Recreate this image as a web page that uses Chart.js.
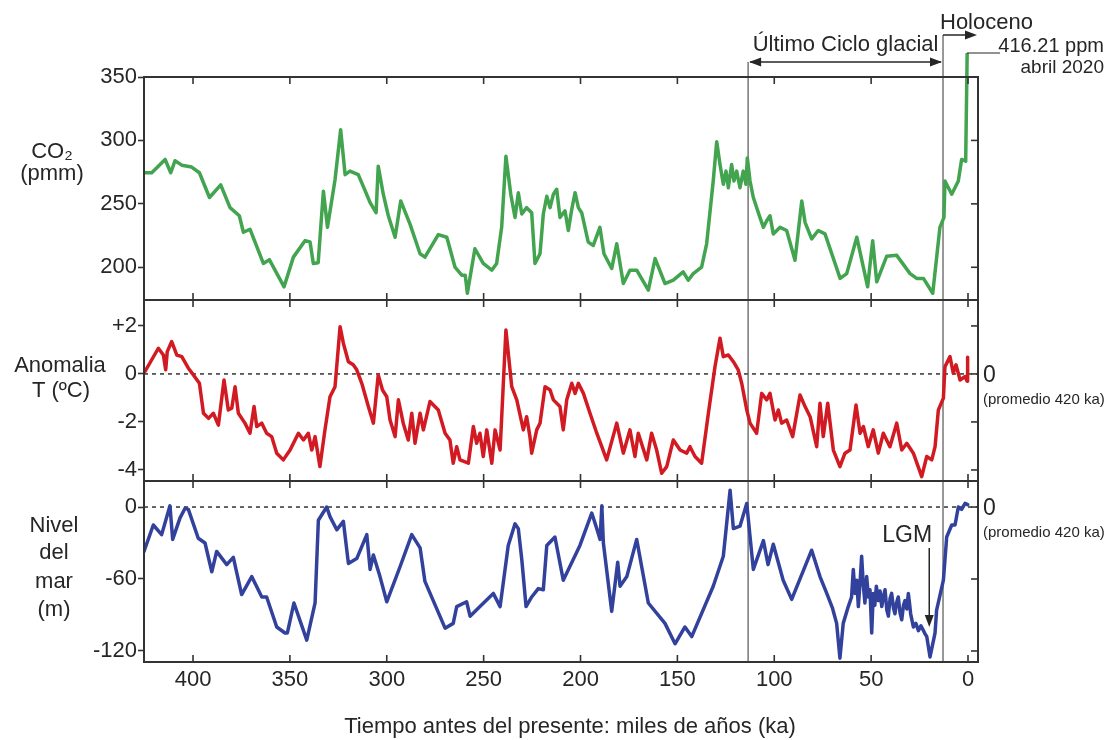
<!DOCTYPE html>
<html><head><meta charset="utf-8">
<script src="https://cdn.jsdelivr.net/npm/chart.js@4.4.1/dist/chart.umd.min.js"></script>
<style>html,body{margin:0;padding:0;background:#fff;}canvas{display:block;}</style>
</head><body>
<canvas id="c" width="1119" height="740"></canvas>
<script>
// ---------- DATA ----------
const co2Age = [425.3,421.3,414.4,411.5,409.3,405.8,400.7,396.7,391.5,385.7,
380.9,376.1,374,370.6,363.7,360.6,353,348.2,342.2,339.6,
337.9,335.4,332.7,330.6,326.7,323.8,321.5,319,314.7,310.4,
308.6,305.5,304.4,301.8,299.2,295.7,292.8,288,282.8,280.3,
273.4,269,264.8,261.3,259.5,258.4,254.5,250.2,245.8,243.3,
240.7,238.5,236,233.8,232.1,230.3,227.8,225.2,223.5,220.9,
219.2,217.4,215.7,214,212.3,210.6,208,206.3,204.5,202.8,
201.1,199.4,196,193.4,190,187.9,183.9,181.3,177.9,174.5,
171,165,161.5,156.4,152.1,147,144.4,141.8,137.5,134.9,
131.5,129.7,128,126.3,124.9,123.7,122,120.8,119.4,117.7,
116,114.6,113.9,112.5,110.8,107.4,105.6,103.9,102.2,100.5,
97,93.6,89.3,85.8,84.1,80.7,77.3,73.8,66,62.6,
57.4,51.8,49.2,47.1,42,36.8,29.9,26.5,23,18.2,
14.5,12.4,11.9,8.4,5,3.3,1.2,0];
const co2Ppm = [274.5,274.5,285,274.5,284,280.5,279,274.5,255,265,
247,240.6,227.6,230,203,206,184.6,208,221,220,
203,203.6,260,231.5,269,308.4,273,275.8,273,257.6,
251,243,279.7,257.6,240.6,223.7,252.3,234,210.7,208,
225.8,223.7,200.2,193.8,193.8,179.5,214.6,203,197.7,203,
231.5,287.5,257.6,239.3,258.8,242,247,243,203,210.7,
242,256,247,257.6,261.5,239.3,244.5,229,245.8,258.8,
247,243,219.8,217.2,231.5,210.7,199,218.5,187.2,197.7,
197.7,182,206.8,187.2,189.8,196.3,189.8,195,200.2,218.5,
268,299,281,265.4,275.8,262.7,281,268,275.8,262.7,
275.8,265.4,286.2,268,255,239.3,231.5,236.7,240.6,226.3,
231.5,229,205.5,252.3,235.4,222.4,229,226.3,191.2,195,
223.7,184.6,221,188.5,208.6,209.4,195,191.2,191.2,179.5,
231.5,239.3,268,257.6,268,285,283.6,416.21];

const tempAge = [425.3,417.9,415.3,414.1,413.3,411,408.4,405.8,402.4,399.8,
396.7,394.6,392,389.5,386.9,384,381.8,380,378.3,376.6,
373.2,370.6,368.5,367.1,364.5,362,359.4,356.8,353.4,349.9,
345.6,343,340.5,338.7,337,334.5,331.9,329.3,326.7,324.1,
322.4,319.8,317.3,315.5,312.9,309.5,306.9,304.4,302.2,300,
298.3,295.7,294,291.5,288.9,287.1,285.4,282.8,281.1,277.7,
273.4,269.9,267.4,265.7,263.9,262.2,257.9,255.3,253.6,251.9,
250.2,248.4,245.8,244.1,241.5,238.5,235.5,232.9,229.5,227.8,
226.1,225.2,222.6,220.9,218.3,215.7,214,210.6,208.9,207.1,
204.5,202.8,201.1,198.5,195.1,191.6,186.5,181.3,177.9,174.5,
171.9,170.2,165.8,163.3,160.7,158.1,155.5,152.1,148.6,145.2,
143.5,140.9,137.5,134,130.6,128,126.3,123.7,121.1,118.6,
116.8,114.2,112.5,109.1,106.5,103.9,102.2,99.6,97.9,96.2,
93.6,90.5,86.7,84.1,81.5,78.1,76.4,74.7,72.4,69.5,
66.1,63.5,60.9,57.8,55.7,54,51.5,48.9,46.3,43.7,
40.3,36.8,34.2,31.6,28.2,23.9,21.3,18.7,17,15.3,
12.7,11.9,9.3,7.6,6.2,4.1,1.5,0.5,0.2];
const tempAnom = [0.03,1.07,0.79,0.17,0.93,1.35,0.79,0.72,0.24,-0.04,
-0.39,-1.64,-1.85,-1.64,-2.13,-0.25,-1.5,-1.43,-0.53,-1.64,
-2.05,-2.47,-1.36,-2.19,-2.05,-2.47,-2.61,-3.3,-3.58,-3.17,
-2.47,-2.75,-2.47,-3.17,-2.61,-3.86,-2.33,-0.95,-0.53,1.97,
1.28,0.51,0.38,0.17,-0.39,-1.36,-2.05,-0.04,-0.67,-0.95,
-1.92,-2.61,-1.08,-2.05,-2.75,-1.64,-2.89,-1.64,-2.33,-1.15,
-1.5,-2.47,-2.75,-3.72,-3.03,-3.58,-3.72,-2.19,-2.89,-2.47,
-3.44,-2.33,-3.72,-2.33,-3.17,1.83,-0.53,-1.08,-2.33,-1.78,
-2.61,-3.3,-2.33,-2.05,-0.53,-0.67,-1.08,-1.36,-2.33,-1.08,
-0.39,-0.81,-0.39,-0.81,-1.64,-2.47,-3.58,-2.05,-3.3,-2.33,
-3.44,-2.47,-3.58,-2.47,-3.17,-4.14,-3.86,-2.75,-3.17,-3.3,
-3.03,-3.44,-3.72,-1.64,0.3,1.49,0.72,0.79,0.51,0.17,
-0.39,-1.5,-2.05,-2.47,-0.81,-1.08,-0.81,-1.92,-1.5,-2.05,
-1.92,-2.61,-0.88,-1.36,-1.78,-3.03,-1.22,-2.61,-1.22,-3.17,
-3.86,-3.3,-3.17,-1.29,-2.47,-2.19,-3.03,-2.33,-3.3,-2.47,
-3.03,-2.05,-3.17,-2.89,-3.3,-4.28,-3.44,-3.58,-3.03,-1.5,
-1.01,0.3,0.72,0.03,0.38,-0.25,-0.11,-0.3,0.7];

const seaAge = [425.3,420.5,416.2,411.9,410.5,406.7,404.1,402.4,397.3,393.8,
390.3,387.8,382.6,379.2,374.9,369.7,364.5,362,356.8,352.5,
351.3,347.9,341.3,337,335.3,331,329.3,325.8,322.4,319.8,
315.5,310.3,308.6,306.9,303.5,300,293.2,287.1,282.8,280.3,
269.9,265.7,263.9,258.8,257,251.9,245,241.5,237.3,233.8,
232.1,230.3,228.1,225.2,221.8,219.2,217.4,213.2,208.9,200.3,
194.2,191.6,189.9,189,188.2,183.9,180.8,179.6,176.1,171,
165,156.4,151.2,146.1,142.6,131.5,126.3,122.8,121.1,117.7,
114.2,110.8,105.6,103.2,100.5,95.4,91,80.7,76.4,72.9,
70,67.8,66.1,64.4,61.8,60.1,59.2,58.3,57.4,56.6,
55.6,54.9,54,53.2,52.3,51.4,50.6,49.7,48.9,48.1,
47.3,46.3,45.4,44.5,43.6,42.8,41.9,41.1,40.2,39.4,
38.5,37.7,36.9,36,35.1,34.2,33.3,32.5,31.6,30.8,
30.2,29.6,28.2,26.9,25.6,24.3,23,22.1,21.3,19.6,
17,16.2,12.7,11,8.4,6.7,5,3.3,1.5,0.2];
const seaLevel = [-37,-15,-23,1,-27,-9,-1,-2,-26,-30,
-54,-37,-48,-42,-73,-58,-75,-75,-100,-105,
-105,-80,-111,-80,-11,0,-8,-19,-12,-47,
-43,-23,-52,-40,-58,-79,-50,-23,-34,-62,
-101,-97,-83,-79,-91,-83,-72,-83,-32,-14,
-18,-44,-83,-75,-68,-69,-32,-25,-61,-32,
-5,-18,-27,1,-30,-87,-46,-66,-58,-27,
-80,-97,-114,-100,-108,-66,-41,14,-18,-16,
3,-52,-28,-48,-31,-61,-77,-36,-58,-72,
-84,-97,-126,-97,-83,-75,-52,-72,-61,-83,
-60,-41,-66,-80,-58,-75,-69,-105,-72,-82,
-66,-78,-70,-83,-74,-69,-86,-91,-76,-72,
-84,-89,-80,-75,-88,-94,-82,-78,-85,-72,
-80,-89,-100,-97,-103,-99,-103,-106,-108,-125,
-105,-86,-61,-25,-15,-15,0,-2,3,2];

const xTicks = [400,350,300,250,200,150,100,50,0];
const co2Ticks = [200,250,300,350];
const tempTicks = [2,0,-2,-4];
const seaTicks = [0,-60,-120];
const glacialStart = 113.5;   // ka
const holoceneStart = 12.9;   // ka
const lgmAge = 20;            // ka

// ---------- STYLE ----------
const FONT = '"Liberation Sans", Arial, Helvetica, sans-serif';
const TXT = '#262626';
const AX = '#333';
const GREEN = 'rgb(66,164,78)';
const RED = 'rgb(210,26,34)';
const BLUE = 'rgb(50,66,156)';

const pts = (a, v) => a.map((x, i) => ({x: x, y: v[i]}));

function seg(ctx, x1, y1, x2, y2) { ctx.beginPath(); ctx.moveTo(x1, y1); ctx.lineTo(x2, y2); ctx.stroke(); }
function head(ctx, x, y, dx, dy) { // tip at x,y pointing along (dx,dy)
  const L = 12, W = 4.5;
  ctx.beginPath();
  ctx.moveTo(x, y);
  ctx.lineTo(x - dx * L - dy * W, y - dy * L + dx * W);
  ctx.lineTo(x - dx * L + dy * W, y - dy * L - dx * W);
  ctx.closePath(); ctx.fill();
}
function txt(ctx, s, x, y, size, align) {
  ctx.font = size + 'px ' + FONT; ctx.textAlign = align || 'left'; ctx.textBaseline = 'alphabetic';
  ctx.fillText(s, x, y);
}

const deco = {
  id: 'deco',
  beforeDatasetsDraw(chart) {
    const {ctx, chartArea: a, scales: s} = chart;
    ctx.save();
    ctx.strokeStyle = AX; ctx.lineWidth = 1.5; ctx.setLineDash([4, 4]);
    ['yT', 'ySea'].forEach(id => { const y = s[id].getPixelForValue(0); seg(ctx, a.left, y, a.right, y); });
    ctx.setLineDash([]);
    ctx.strokeStyle = '#555'; ctx.lineWidth = 1.2;
    const xg = s.x.getPixelForValue(glacialStart), xh = s.x.getPixelForValue(holoceneStart);
    seg(ctx, xg, 62, xg, a.bottom);
    seg(ctx, xh, 35, xh, a.bottom);
    ctx.restore();
  },
  afterDatasetsDraw(chart) {
    const {ctx, chartArea: a, scales: s} = chart;
    const panels = [s.yCO2, s.yT, s.ySea];
    ctx.save();
    ctx.strokeStyle = AX; ctx.lineWidth = 2;
    panels.forEach(p => ctx.strokeRect(a.left, p.top, a.right - a.left, p.bottom - p.top));
    ctx.lineWidth = 1.6;
    panels.forEach(p => xTicks.forEach(v => {
      const x = s.x.getPixelForValue(v);
      seg(ctx, x, p.top, x, p.top + 7); seg(ctx, x, p.bottom, x, p.bottom - 7);
    }));
    [[s.yCO2, co2Ticks], [s.yT, tempTicks], [s.ySea, seaTicks]].forEach(([sc, t]) => t.forEach(v => {
      const y = sc.getPixelForValue(v); seg(ctx, a.right - 7, y, a.right, y);
    }));

    // annotations
    ctx.fillStyle = TXT; ctx.strokeStyle = TXT; ctx.lineWidth = 1.5;
    const xg = s.x.getPixelForValue(glacialStart), xh = s.x.getPixelForValue(holoceneStart);
    seg(ctx, xg + 2, 62, xh - 2, 62);
    head(ctx, xg + 1, 62, -1, 0); head(ctx, xh - 1, 62, 1, 0);
    txt(ctx, 'Último Ciclo glacial', (xg + xh) / 2, 51, 22, 'center');
    seg(ctx, xh, 35, 972, 35); head(ctx, 977, 35, 1, 0);
    txt(ctx, 'Holoceno', 940, 29, 22, 'left');
    ctx.lineWidth = 1.2;
    const xNow = s.x.getPixelForValue(0);
    seg(ctx, xNow - 1, 53, 1000, 53);
    txt(ctx, '416.21 ppm', 1104, 52, 20, 'right');
    txt(ctx, 'abril 2020', 1104, 73, 19, 'right');

    // LGM
    const xl = s.x.getPixelForValue(lgmAge);
    txt(ctx, 'LGM', xl - 22, 542, 23, 'center');
    ctx.lineWidth = 1.5;
    seg(ctx, xl, 548, xl, 618); head(ctx, xl, 627, 0, 1);

    // left labels
    txt(ctx, 'CO₂', 52, 158, 22, 'center');
    txt(ctx, '(pmm)', 52, 180, 22, 'center');
    txt(ctx, 'Anomalia', 60, 372, 22, 'center');
    txt(ctx, 'T (ºC)', 61, 397, 22, 'center');
    txt(ctx, 'Nivel', 54, 532, 22, 'center');
    txt(ctx, 'del', 54, 559, 22, 'center');
    txt(ctx, 'mar', 54, 588, 22, 'center');
    txt(ctx, '(m)', 54, 616, 22, 'center');

    // right labels
    const y0t = s.yT.getPixelForValue(0), y0s = s.ySea.getPixelForValue(0);
    txt(ctx, '0', 983, y0t + 8, 23, 'left');
    txt(ctx, '(promedio 420 ka)', 983, y0t + 30, 15, 'left');
    txt(ctx, '0', 983, y0s + 8, 23, 'left');
    txt(ctx, '(promedio 420 ka)', 983, y0s + 30, 15, 'left');

    // x title
    txt(ctx, 'Tiempo antes del presente: miles de años (ka)', 570, 733, 22, 'center');
    ctx.restore();
  }
};

const yCommon = (weight, sw, min, max, ticks, cb) => ({
  type: 'linear', position: 'left', stack: 'panels', stackWeight: sw, weight: weight,
  min: min, max: max,
  afterBuildTicks: sc => { sc.ticks = ticks.map(v => ({value: v})); },
  afterFit: sc => { sc.width = 144; },
  grid: {drawOnChartArea: false, drawTicks: true, tickLength: 6, tickColor: AX, tickWidth: 1.6},
  border: {display: false},
  ticks: {autoSkip: false, padding: 1, color: TXT, font: {family: FONT, size: 22}, callback: cb}
});

new Chart(document.getElementById('c').getContext('2d'), {
  type: 'line',
  data: {datasets: [
    {label: 'CO2', data: pts(co2Age, co2Ppm), yAxisID: 'yCO2', borderColor: GREEN, borderWidth: 3.5, pointRadius: 0,
     clip: {left: 0, top: 24, right: 0, bottom: 0}},
    {label: 'T', data: pts(tempAge, tempAnom), yAxisID: 'yT', borderColor: RED, borderWidth: 3.5, pointRadius: 0},
    {label: 'Nivel', data: pts(seaAge, seaLevel), yAxisID: 'ySea', borderColor: BLUE, borderWidth: 3.5, pointRadius: 0}
  ]},
  options: {
    responsive: false, animation: false, devicePixelRatio: 1,
    layout: {padding: {left: 0, top: 77, right: 141, bottom: 0}},
    plugins: {legend: {display: false}, tooltip: {enabled: false}},
    elements: {line: {tension: 0, borderJoinStyle: 'round', borderCapStyle: 'round'}},
    scales: {
      x: {
        type: 'linear', reverse: true, min: -5.16, max: 425.3,
        afterBuildTicks: sc => { sc.ticks = xTicks.map(v => ({value: v})); },
        afterFit: sc => { sc.height = 78; },
        grid: {drawOnChartArea: false, drawTicks: false},
        border: {display: false},
        ticks: {autoSkip: false, maxRotation: 0, padding: 5, color: TXT, font: {family: FONT, size: 22}, callback: v => String(v)}
      },
      yCO2: yCommon(3, 223, 174.2, 350, co2Ticks, v => String(v)),
      yT: yCommon(2, 181, -4.46, 3.08, tempTicks, v => v > 0 ? '+' + v : String(v)),
      ySea: yCommon(1, 181, -129.2, 21.7, seaTicks, v => String(v))
    }
  },
  plugins: [deco]
});
</script>
</body></html>
